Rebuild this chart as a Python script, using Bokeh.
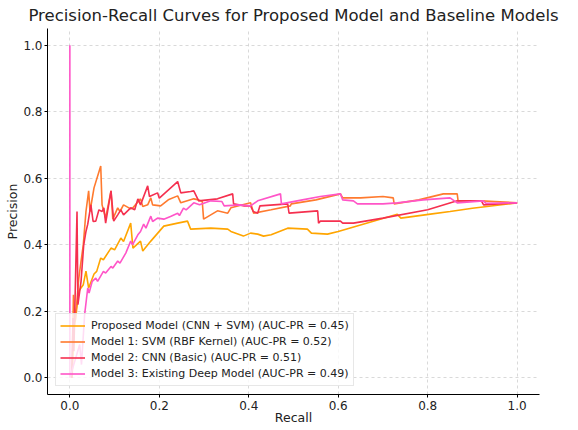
from bokeh.plotting import figure
from bokeh.models import Range1d, FixedTicker, PrintfTickFormatter, Legend, LegendItem
from bokeh.embed import file_html
from bokeh.resources import INLINE

title_text = "Precision-Recall Curves for Proposed Model and Baseline Models"
x_label = "Recall"
y_label = "Precision"
x_ticks = [0.0, 0.2, 0.4, 0.6, 0.8, 1.0]
y_ticks = [0.0, 0.2, 0.4, 0.6, 0.8, 1.0]

series_names = [
    "Proposed Model (CNN + SVM) (AUC-PR = 0.45)",
    "Model 1: SVM (RBF Kernel) (AUC-PR = 0.52)",
    "Model 2: CNN (Basic) (AUC-PR = 0.51)",
    "Model 3: Existing Deep Model (AUC-PR = 0.49)",
]
series_colors = ["#FFA500", "#FF7A2E", "#F5304F", "#FF55C8"]

proposed_recall = [0.005, 0.009, 0.013, 0.020, 0.030, 0.036, 0.042, 0.054, 0.060, 0.069, 0.075, 0.092,
                   0.100, 0.114, 0.120, 0.136, 0.141, 0.158, 0.163, 0.181, 0.210, 0.241, 0.263, 0.270,
                   0.315, 0.353, 0.360, 0.388, 0.404, 0.420, 0.433, 0.450, 0.487, 0.531, 0.540, 0.576,
                   0.600, 0.732, 0.740, 0.806, 0.850, 0.900, 1.000]
proposed_precision = [0.000, 0.150, 0.180, 0.261, 0.280, 0.321, 0.270, 0.312, 0.320, 0.360, 0.355, 0.390,
                      0.385, 0.420, 0.410, 0.465, 0.390, 0.411, 0.381, 0.411, 0.456, 0.465, 0.471, 0.447,
                      0.450, 0.447, 0.440, 0.426, 0.435, 0.432, 0.426, 0.430, 0.450, 0.447, 0.435, 0.432,
                      0.440, 0.492, 0.480, 0.492, 0.500, 0.510, 0.526]

model1_recall = [0.005, 0.008, 0.012, 0.020, 0.025, 0.030, 0.036, 0.042, 0.045, 0.054, 0.069, 0.072,
                 0.080, 0.092, 0.096, 0.107, 0.112, 0.120, 0.136, 0.140, 0.158, 0.163, 0.174, 0.181,
                 0.185, 0.203, 0.220, 0.241, 0.248, 0.277, 0.288, 0.296, 0.299, 0.330, 0.353, 0.360,
                 0.404, 0.411, 0.450, 0.493, 0.495, 0.550, 0.605, 0.610, 0.650, 0.700, 0.723, 0.725,
                 0.780, 0.835, 0.866, 0.868, 0.920, 0.950, 1.000]
model1_precision = [0.000, 0.250, 0.170, 0.300, 0.350, 0.400, 0.500, 0.562, 0.500, 0.571, 0.637, 0.520,
                    0.480, 0.562, 0.477, 0.511, 0.500, 0.520, 0.508, 0.510, 0.538, 0.515, 0.520, 0.541,
                    0.520, 0.517, 0.535, 0.547, 0.526, 0.538, 0.535, 0.530, 0.477, 0.502, 0.495, 0.511,
                    0.526, 0.495, 0.505, 0.517, 0.523, 0.535, 0.553, 0.541, 0.541, 0.545, 0.541, 0.523,
                    0.535, 0.553, 0.553, 0.532, 0.532, 0.530, 0.526]

model2_recall = [0.004, 0.007, 0.009, 0.016, 0.018, 0.025, 0.031, 0.036, 0.040, 0.047, 0.052, 0.058,
                 0.065, 0.072, 0.076, 0.080, 0.092, 0.098, 0.107, 0.114, 0.120, 0.136, 0.145, 0.152,
                 0.158, 0.174, 0.178, 0.196, 0.200, 0.241, 0.248, 0.270, 0.277, 0.288, 0.330, 0.364,
                 0.366, 0.390, 0.404, 0.410, 0.420, 0.425, 0.487, 0.490, 0.554, 0.556, 0.560, 0.605,
                 0.610, 0.634, 0.700, 0.800, 0.866, 0.920, 0.925, 1.000]
model2_precision = [0.000, 0.180, 0.080, 0.500, 0.220, 0.290, 0.400, 0.440, 0.462, 0.520, 0.470, 0.471,
                    0.505, 0.500, 0.511, 0.465, 0.562, 0.471, 0.490, 0.505, 0.490, 0.511, 0.505, 0.538,
                    0.520, 0.577, 0.545, 0.556, 0.540, 0.590, 0.556, 0.560, 0.562, 0.532, 0.538, 0.553,
                    0.523, 0.517, 0.517, 0.500, 0.495, 0.517, 0.523, 0.495, 0.502, 0.465, 0.471, 0.471,
                    0.465, 0.465, 0.480, 0.505, 0.532, 0.532, 0.520, 0.526]

model3_recall = [0.000, 0.000, 0.022, 0.026, 0.033, 0.040, 0.043, 0.050, 0.058, 0.062, 0.075, 0.080,
                 0.092, 0.096, 0.107, 0.112, 0.125, 0.136, 0.140, 0.152, 0.158, 0.165, 0.170, 0.181,
                 0.185, 0.196, 0.210, 0.225, 0.241, 0.245, 0.254, 0.260, 0.277, 0.290, 0.315, 0.340,
                 0.345, 0.380, 0.404, 0.420, 0.471, 0.473, 0.520, 0.560, 0.605, 0.610, 0.634, 0.643,
                 0.700, 0.732, 0.790, 0.850, 0.866, 0.924, 0.930, 1.000]
model3_precision = [1.000, 0.000, 0.100, 0.040, 0.190, 0.270, 0.255, 0.290, 0.300, 0.290, 0.320, 0.315,
                    0.335, 0.330, 0.351, 0.345, 0.375, 0.411, 0.400, 0.430, 0.440, 0.462, 0.450, 0.486,
                    0.470, 0.480, 0.477, 0.485, 0.495, 0.488, 0.510, 0.505, 0.526, 0.520, 0.532, 0.530,
                    0.517, 0.520, 0.517, 0.532, 0.553, 0.523, 0.535, 0.545, 0.553, 0.535, 0.532, 0.523,
                    0.523, 0.526, 0.535, 0.541, 0.526, 0.532, 0.525, 0.526]

series_recall = [proposed_recall, model1_recall, model2_recall, model3_recall]
series_precision = [proposed_precision, model1_precision, model2_precision, model3_precision]

FONT = "DejaVu Sans"
TEXT = "#222222"

p = figure(width=562, height=430, output_backend="svg", toolbar_location=None,
           x_range=Range1d(-0.05, 1.05), y_range=Range1d(-0.05, 1.05),
           title=title_text, min_border_left=47, min_border_right=23,
           min_border_top=0, min_border_bottom=36)

p.title.align = "center"
p.title.text_font = FONT
p.title.text_font_size = "16.5px"
p.title.text_font_style = "normal"
p.title.text_color = TEXT
p.title.standoff = 7

p.outline_line_color = None
p.background_fill_color = "white"

for ax in (p.xaxis, p.yaxis):
    ax.axis_line_color = "black"
    ax.axis_line_width = 1
    ax.major_tick_line_color = "black"
    ax.major_tick_out = 3
    ax.major_tick_in = 0
    ax.minor_tick_line_color = None
    ax.major_label_text_font = FONT
    ax.major_label_text_font_size = "12px"
    ax.major_label_text_color = TEXT
    ax.axis_label_text_font = FONT
    ax.axis_label_text_font_size = "12.5px"
    ax.axis_label_text_font_style = "normal"
    ax.axis_label_text_color = TEXT
    ax.formatter = PrintfTickFormatter(format="%.1f")

p.xaxis.major_label_standoff = 3
p.xaxis.axis_label_standoff = -3
p.yaxis.major_label_standoff = 2
p.yaxis.axis_label_standoff = 0

p.xaxis.ticker = FixedTicker(ticks=x_ticks)
p.yaxis.ticker = FixedTicker(ticks=y_ticks)
p.xaxis.axis_label = x_label
p.yaxis.axis_label = y_label

p.grid.grid_line_color = "#cfcfcf"
p.grid.grid_line_dash = "3 3"
p.grid.grid_line_width = 0.8

items = []
for name, color, rx, py in zip(series_names, series_colors, series_recall, series_precision):
    r = p.line(rx, py, line_color=color, line_width=1.6)
    items.append(LegendItem(label=name, renderers=[r]))

legend = Legend(items=items, location=(8, 8))
legend.label_text_font = FONT
legend.label_text_font_size = "11px"
legend.label_text_color = TEXT
legend.glyph_width = 25
legend.glyph_height = 15
legend.label_height = 15
legend.label_standoff = 6
legend.spacing = 1
legend.padding = 4
legend.margin = 0
legend.background_fill_color = "white"
legend.background_fill_alpha = 0.8
legend.border_line_color = "#d0d0d0"
legend.border_line_width = 1
p.add_layout(legend)

open("out.html", "w").write(file_html(p, INLINE))
